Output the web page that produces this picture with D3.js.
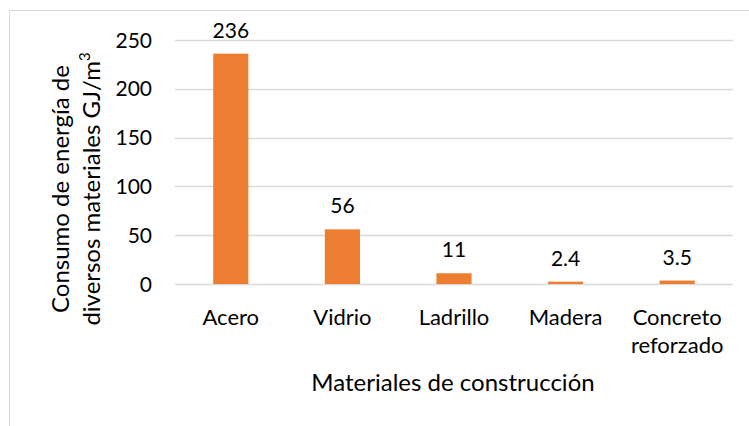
<!DOCTYPE html>
<html>
<head>
<meta charset="utf-8">
<script src="https://cdn.jsdelivr.net/npm/d3@7"></script>
<style>
  html, body { margin: 0; padding: 0; background: #fff; }
  svg text { font-family: Lato, "Open Sans", sans-serif; fill: #000; }
</style>
</head>
<body>
<svg id="chart" width="749" height="426"></svg>
<script>
// Datos del gráfico
const materiales = ['Acero', 'Vidrio', 'Ladrillo', 'Madera', 'Concreto\nreforzado'];
const consumo = [236, 56, 11, 2.4, 3.5];
const etiquetas = ['236', '56', '11', '2.4', '3.5'];
const ticksY = [0, 50, 100, 150, 200, 250];

const svg = d3.select('#chart');
const W = 749, H = 426;
const m = { left: 175, right: 16, top: 40, bottom: 142 };

// marco del gráfico
svg.append('rect')
  .attr('x', 9.5).attr('y', 10.5)
  .attr('width', W + 10).attr('height', H + 10)
  .attr('fill', '#fff').attr('stroke', '#d9d9d9').attr('stroke-width', 1);

const x = d3.scaleBand()
  .domain(materiales)
  .range([m.left, W - m.right])
  .paddingInner(0.685)
  .paddingOuter(0.3425);

const y = d3.scaleLinear()
  .domain([0, 250])
  .range([H - m.bottom, m.top]);

// rejilla
svg.append('g')
  .selectAll('line')
  .data(ticksY)
  .join('line')
  .attr('x1', m.left).attr('x2', W - m.right)
  .attr('y1', d => Math.round(y(d)) + 0.5).attr('y2', d => Math.round(y(d)) + 0.5)
  .attr('stroke', '#d9d9d9').attr('stroke-width', 1.3);

// etiquetas eje Y
svg.append('g')
  .selectAll('text')
  .data(ticksY)
  .join('text')
  .attr('x', 152).attr('y', d => y(d))
  .attr('dy', '0.36em')
  .attr('text-anchor', 'end')
  .style('font-size', '21px')
  .text(d => d);

// barras
svg.append('g')
  .selectAll('rect')
  .data(consumo)
  .join('rect')
  .attr('x', (d, i) => x(materiales[i]))
  .attr('y', d => y(d))
  .attr('width', x.bandwidth())
  .attr('height', d => y(0) - y(d))
  .attr('fill', '#ed7d31');

// valores
svg.append('g')
  .selectAll('text')
  .data(consumo)
  .join('text')
  .attr('x', (d, i) => x(materiales[i]) + x.bandwidth() / 2)
  .attr('y', d => y(d) - 16)
  .attr('text-anchor', 'middle')
  .style('font-size', '21px')
  .text((d, i) => etiquetas[i]);

// etiquetas eje X
svg.append('g')
  .selectAll('text')
  .data(materiales)
  .join('text')
  .attr('x', d => x(d) + x.bandwidth() / 2)
  .attr('y', 325)
  .attr('text-anchor', 'middle')
  .style('font-size', '22px')
  .each(function(d) {
    d.split('\n').forEach((s, k) => {
      d3.select(this).append('tspan')
        .attr('x', x(d) + x.bandwidth() / 2)
        .attr('dy', k === 0 ? 0 : 28)
        .text(s);
    });
  });

// título eje X
svg.append('text')
  .attr('x', 453).attr('y', 391)
  .attr('text-anchor', 'middle')
  .style('font-size', '24px')
  .text('Materiales de construcción');

// título eje Y
const ty = svg.append('text')
  .attr('transform', 'translate(0,189) rotate(-90)')
  .attr('text-anchor', 'middle')
  .style('font-size', '24px');
ty.append('tspan').attr('x', 0).attr('y', 69).text('Consumo de energía de');
const l2 = ty.append('tspan').attr('x', 0).attr('y', 100).text('diversos materiales GJ/m');
l2.append('tspan').attr('dy', -10).style('font-size', '15px').text('3');
</script>
</body>
</html>
